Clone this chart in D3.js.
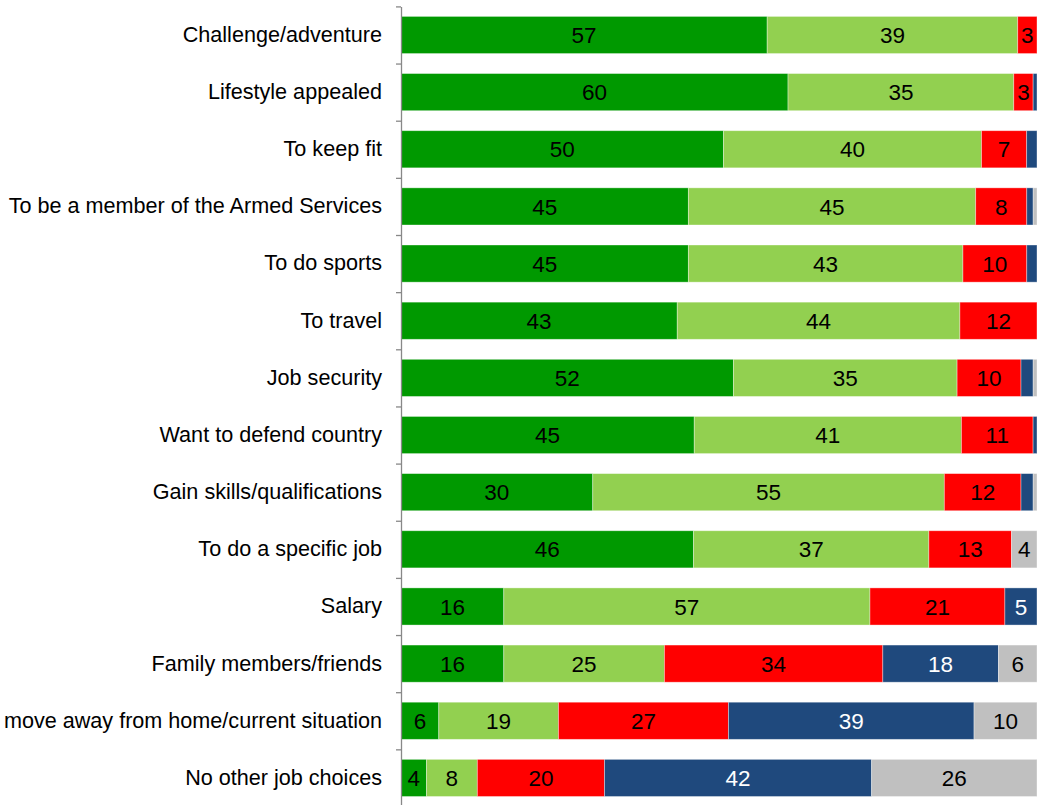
<!DOCTYPE html>
<html>
<head>
<meta charset="utf-8">
<script src="https://cdn.jsdelivr.net/npm/d3@7"></script>
<style>
  html, body { margin: 0; padding: 0; background: #fff; }
  svg { display: block; font-family: "Liberation Sans", Arial, sans-serif; }
</style>
</head>
<body>
<svg id="chart" width="1037" height="805"></svg>
<script>
// Reasons for joining, share of responses per importance level
const categories = [
  "Challenge/adventure",
  "Lifestyle appealed",
  "To keep fit",
  "To be a member of the Armed Services",
  "To do sports",
  "To travel",
  "Job security",
  "Want to defend country",
  "Gain skills/qualifications",
  "To do a specific job",
  "Salary",
  "Family members/friends",
  "move away from home/current situation",
  "No other job choices"
];
const seriesKeys = ["Very important", "Fairly important", "Not very important", "Not at all important", "Don't know"];
const veryImportant     = [57, 60, 50, 45, 45, 43, 52, 45, 30, 46, 16, 16, 6, 4];
const fairlyImportant   = [39, 35, 40, 45, 43, 44, 35, 41, 55, 37, 57, 25, 19, 8];
const notVeryImportant  = [3, 3, 7, 8, 10, 12, 10, 11, 12, 13, 21, 34, 27, 20];
const notAtAllImportant = [0, 0.6, 1.6, 1, 1.6, 0, 1.9, 0.6, 1.9, 0, 5, 18, 39, 42];
const dontKnow          = [0, 0, 0, 0.6, 0, 0, 0.6, 0, 0.6, 4, 0, 6, 10, 26];
const seriesColors = ["#009900", "#92D050", "#FF0000", "#1F497D", "#C0C0C0"];
const labelColors  = ["#000", "#000", "#000", "#fff", "#000"];

const seriesValues = [veryImportant, fairlyImportant, notVeryImportant, notAtAllImportant, dontKnow];
const rows = categories.map((c, i) => {
  const r = { category: c };
  seriesKeys.forEach((k, j) => { r[k] = seriesValues[j][i]; });
  return r;
});

const svg = d3.select("#chart");
const plotLeft = 401, plotRight = 1037, plotTop = 6.4, plotBottom = 806.5;

const x = d3.scaleLinear().domain([0, 1]).range([plotLeft, plotRight]);
const y = d3.scaleBand().domain(categories).range([plotTop, plotBottom])
  .paddingInner(0.35).paddingOuter(0.175);

const stacked = d3.stack().keys(seriesKeys).offset(d3.stackOffsetExpand)(rows);

const layers = svg.append("g").selectAll("g")
  .data(stacked).join("g")
  .attr("fill", (d, i) => seriesColors[i]);

layers.selectAll("rect")
  .data(d => d)
  .join("rect")
  .attr("x", d => x(d[0]))
  .attr("y", d => y(d.data.category))
  .attr("width", d => Math.max(0, x(d[1]) - x(d[0])))
  .attr("height", y.bandwidth())
  .attr("stroke", "rgba(255,255,255,0.45)")
  .attr("stroke-width", 0.8);

// value labels for segments of at least 3
stacked.forEach((layer, i) => {
  svg.append("g").selectAll("text")
    .data(layer.filter(d => d.data[layer.key] >= 3))
    .join("text")
    .attr("x", d => (x(d[0]) + x(d[1])) / 2)
    .attr("y", d => y(d.data.category) + y.bandwidth() / 2)
    .attr("dy", "0.36em")
    .attr("text-anchor", "middle")
    .attr("font-size", 22.5)
    .attr("fill", labelColors[i])
    .text(d => d3.format("d")(d.data[layer.key]));
});

// axis line with ticks between categories
const boundary = d3.scaleLinear().domain([0, categories.length]).range([plotTop, plotBottom]);
const tickAxis = svg.append("g")
  .attr("transform", `translate(${plotLeft},0)`)
  .call(d3.axisLeft(boundary).tickValues(d3.range(categories.length + 1))
    .tickFormat("").tickSize(5).tickSizeOuter(0));
tickAxis.selectAll("path, line").attr("stroke", "#888").attr("stroke-width", 1.3);

// category labels
const labelAxis = svg.append("g")
  .attr("transform", `translate(${plotLeft},0)`)
  .call(d3.axisLeft(y).tickSize(0).tickPadding(19));
labelAxis.select(".domain").remove();
labelAxis.selectAll("text")
  .attr("font-size", 21.6)
  .attr("font-family", "Liberation Sans, Arial, sans-serif")
  .attr("fill", "#000");
</script>
</body>
</html>
